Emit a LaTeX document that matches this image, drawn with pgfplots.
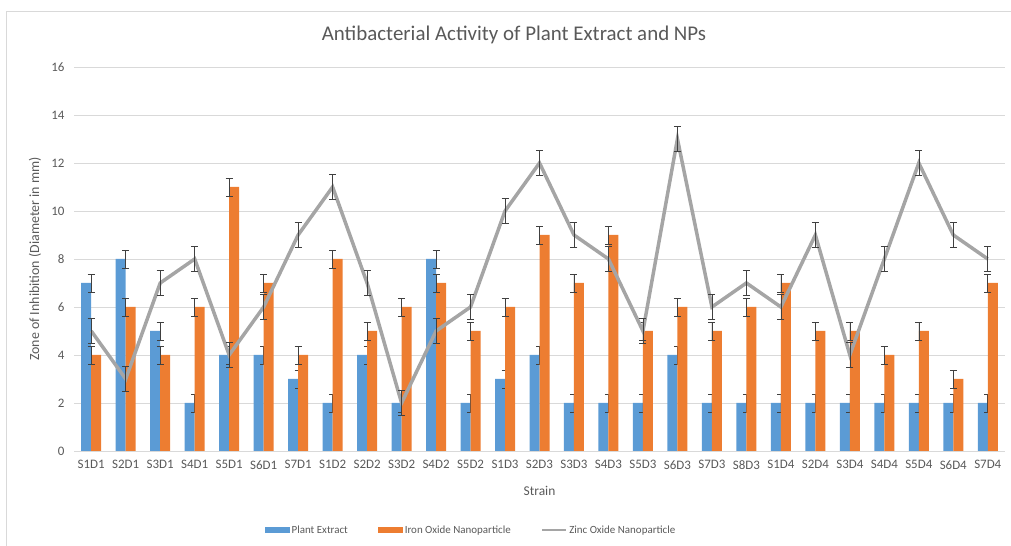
\documentclass[border=0pt]{standalone}
\usepackage{pgfplots}
\pgfplotsset{compat=1.18}
\usepackage{pgfplotstable}
\usepackage{fontspec}
\setmainfont{Carlito}
\definecolor{cblue}{HTML}{5B9BD5}
\definecolor{corange}{HTML}{ED7D31}
\definecolor{cgray}{HTML}{A5A5A5}
\definecolor{cgrid}{HTML}{D9D9D9}
\definecolor{ctext}{HTML}{595959}
\definecolor{cerr}{HTML}{404040}
\pgfplotstableread{
x pe pee fe fee zn zne
0  7 0.37 4  0.37 5  0.53
1  8 0.37 6  0.37 3  0.53
2  5 0.37 4  0.37 7  0.53
3  2 0.37 6  0.37 8  0.53
4  4 0.37 11 0.37 4  0.53
5  4 0.37 7  0.37 6  0.53
6  3 0.37 4  0.37 9  0.53
7  2 0.37 8  0.37 11 0.53
8  4 0.37 5  0.37 7  0.53
9  2 0.37 6  0.37 2  0.53
10 8 0.37 7  0.37 5  0.53
11 2 0.37 5  0.37 6  0.53
12 3 0.37 6  0.37 10 0.53
13 4 0.37 9  0.37 12 0.53
14 2 0.37 7  0.37 9  0.53
15 2 0.37 9  0.37 8  0.53
16 2 0.37 5  0.37 5  0.53
17 4 0.37 6  0.37 13 0.53
18 2 0.37 5  0.37 6  0.53
19 2 0.37 6  0.37 7  0.53
20 2 0.37 7  0.37 6  0.53
21 2 0.37 5  0.37 9  0.53
22 2 0.37 5  0.37 4  0.53
23 2 0.37 4  0.37 8  0.53
24 2 0.37 5  0.37 12 0.53
25 2 0.37 3  0.37 9  0.53
26 2 0.37 7  0.37 8  0.53
}\datatable
\pgfplotsset{
  myerr/.style={error bars/y dir=both, error bars/y explicit,
    error bars/error mark options={cerr, line width=0.6bp, mark size=3.5bp, rotate=90},
    error bars/error bar style={cerr, line width=0.6bp}},
}
\begin{document}
\begin{tikzpicture}[x=1bp,y=1bp]
\useasboundingbox (0,0) rectangle (1011,546);
\draw[cgrid, line width=0.8bp] (6.7,0) -- (6.7,534.3) -- (1011,534.3);
\begin{axis}[
  at={(74bp,95bp)}, anchor=south west,
  scale only axis, width=931bp, height=384bp,
  xmin=-0.5, xmax=26.5, ymin=0, ymax=16,
  ytick={0,2,...,16},
  xtick={0,...,26},
  xticklabels={S1D1,S2D1,S3D1,S4D1,S5D1,S6D1,S7D1,S1D2,S2D2,S3D2,S4D2,S5D2,S1D3,S2D3,S3D3,S4D3,S5D3,S6D3,S7D3,S8D3,S1D4,S2D4,S3D4,S4D4,S5D4,S6D4,S7D4},
  axis line style={draw=none},
  axis x line*=bottom,
  x axis line style={draw=cgrid, line width=0.8bp},
  ymajorgrids, grid style={cgrid, line width=0.8bp},
  major tick length=0pt,
  tick label style={font=\fontsize{13}{15}\selectfont, text=ctext},
  /pgf/number format/assume math mode=true,
  yticklabel style={xshift=-6bp},
  xticklabel style={yshift=-6bp},
  title={Antibacterial Activity of Plant Extract and NPs},
  title style={at={(axis description cs:0.4726,1.0677)}, anchor=center, font=\fontsize{21}{25}\selectfont, text=ctext},
  xlabel={Strain},
  xlabel style={at={(axis description cs:0.5,-0.1042)}, anchor=center, font=\fontsize{13.5}{16}\selectfont, text=ctext},
  ylabel={Zone of Inhibition (Diameter in mm)},
  ylabel style={at={(axis description cs:-0.0419,0.5)}, anchor=center, font=\fontsize{14}{16}\selectfont, text=ctext},
  legend style={at={(axis description cs:0.4264,-0.2057)}, anchor=center, draw=none, fill=none,
    legend columns=3, font=\fontsize{11}{13}\selectfont, text=ctext,
    /tikz/every even column/.append style={column sep=28bp}},
  legend cell align=left,
  clip=false,
]
\addplot[ybar, bar width=10bp, bar shift=-5bp, fill=cblue, draw=none, myerr,
  legend image code/.code={\fill[cblue] (0bp,-3bp) rectangle (25bp,3bp);}]
  table[x=x, y=pe, y error=pee]{\datatable};
\addlegendentry{Plant Extract}
\addplot[ybar, bar width=10bp, bar shift=5bp, fill=corange, draw=none, myerr,
  legend image code/.code={\fill[corange] (0bp,-3bp) rectangle (25bp,3bp);}]
  table[x=x, y=fe, y error=fee]{\datatable};
\addlegendentry{Iron Oxide Nanoparticle}
\addplot[cgray, line width=3.5bp, mark=none, myerr,
  legend image code/.code={\draw[cgray, line width=2.5bp] (0bp,0bp) -- (24bp,0bp);}]
  table[x=x, y=zn, y error=zne]{\datatable};
\addlegendentry{Zinc Oxide Nanoparticle}
\end{axis}
\end{tikzpicture}
\end{document}
